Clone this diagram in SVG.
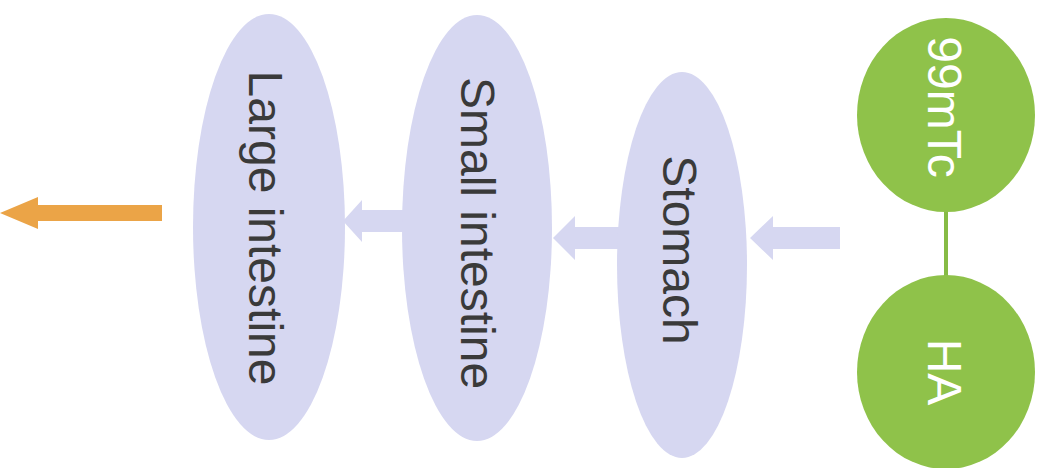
<svg xmlns="http://www.w3.org/2000/svg" width="1045" height="468" viewBox="0 0 1045 468">
<style>
.organ{fill:#d6d7f1;}
.green{fill:#8fc24a;}
.lbl{font-family:"Liberation Sans",Arial,Helvetica,sans-serif;font-size:48px;text-anchor:middle;}
.dark{fill:#3a3a3a;}
.white{fill:#ffffff;}
.flow{fill:#d6d7f1;}
.out{fill:#eba447;}
</style>
<rect width="1045" height="468" fill="#ffffff"/>
<g id="connectors">
<line x1="946" y1="205" x2="946" y2="282" stroke="#86bb45" stroke-width="4"/>
<polygon class="flow" points="750,238 773,216 773,227 840,227 840,249 773,249 773,260"/>
<polygon class="flow" points="553,238 575,216 575,227 625,227 625,249 575,249 575,260"/>
<polygon class="flow" points="343,221 362,200 362,210 412,210 412,232 362,232 362,242"/>
<polygon class="out" points="0,213 38,197 38,205 162,205 162,221 38,221 38,229"/>
</g>
<g id="node-large-intestine">
<ellipse class="organ" cx="269" cy="227" rx="76" ry="213"/>
<text class="lbl dark" transform="translate(249,228) rotate(90)">Large intestine</text>
</g>
<g id="node-small-intestine">
<ellipse class="organ" cx="477" cy="228" rx="75" ry="213"/>
<text class="lbl dark" transform="translate(461,233) rotate(90)">Small intestine</text>
</g>
<g id="node-stomach">
<ellipse class="organ" cx="682" cy="265" rx="65" ry="193"/>
<text class="lbl dark" transform="translate(663,250) rotate(90)">Stomach</text>
</g>
<g id="node-99mtc">
<ellipse class="green" cx="946" cy="115" rx="89" ry="97"/>
<text class="lbl white" transform="translate(928,107) rotate(90)">99mTc</text>
</g>
<g id="node-ha">
<ellipse class="green" cx="946" cy="372" rx="89" ry="97"/>
<text class="lbl white" transform="translate(928,372) rotate(90)">HA</text>
</g>
</svg>
